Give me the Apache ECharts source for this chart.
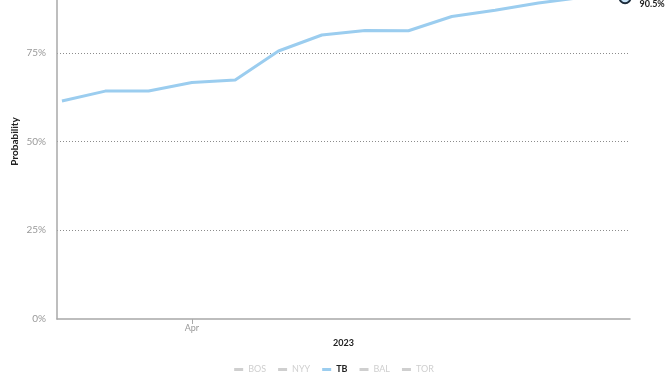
<!DOCTYPE html>
<html>
<head>
<meta charset="utf-8">
<title>Probability</title>
<script src="https://cdn.jsdelivr.net/npm/echarts@6/dist/echarts.min.js"></script>
<style>
  html, body { margin: 0; padding: 0; background: #fff; }
  #chart { width: 668px; height: 376px; }
</style>
</head>
<body>
<div id="chart"></div>
<script>
// weekly snapshots (2023)
var dates = ["2023-03-11", "2023-03-18", "2023-03-25", "2023-04-01", "2023-04-08", "2023-04-15", "2023-04-22",
  "2023-04-29", "2023-05-06", "2023-05-13", "2023-05-20", "2023-05-27", "2023-06-03", "2023-06-10"];
var tbValues = [61.4, 64.2, 64.2, 66.6, 67.3, 75.5, 80.0, 81.3, 81.2, 85.2, 87.0, 89.0, 90.6, 90.5];
var teams = ["BOS", "NYY", "TB", "BAL", "TOR"];
var yTicks = [0, 25, 50, 75, 100];
var monthTicks = ["2023-04-01"];
var monthNames = ["Jan", "Feb", "Mar", "Apr", "May", "Jun", "Jul", "Aug", "Sep", "Oct", "Nov", "Dec"];

var day = 24 * 3600 * 1000;
function toTime(d) { return new Date(d + "T00:00:00Z").getTime(); }
var t = dates.map(toTime);
var monthTickTimes = monthTicks.map(toTime);

var chart = echarts.init(document.getElementById("chart"));

var teamColors = { BOS: "#bd3039", NYY: "#0c2340", TB: "#9bcdef", BAL: "#df4601", TOR: "#134a8e" };

var series = teams.map(function (name) {
  var s = {
    name: name,
    type: "line",
    color: teamColors[name],
    showSymbol: false,
    symbol: "circle",
    lineStyle: { width: 3 },
    clip: false,
    data: []
  };
  if (name === "TB") {
    s.data = t.map(function (x, i) {
      var item = { value: [x, tbValues[i]] };
      if (i === t.length - 1) {
        item.symbol = "circle";
        item.symbolSize = 11;
        item.itemStyle = { color: "#c6e2f6", borderColor: "#1c2b3a", borderWidth: 2 };
        item.label = {
          show: true,
          position: "right",
          offset: [3, 6],
          formatter: tbValues[i].toFixed(1) + "%",
          color: "#222",
          fontWeight: "bold",
          fontSize: 9,
          fontFamily: "Lato"
        };
      }
      return item;
    });
    s.showAllSymbol = true;
    s.showSymbol = true;
    s.symbolSize = 0;
  }
  return s;
});

var selected = {};
teams.forEach(function (n) { selected[n] = n === "TB"; });

var option = {
  animation: false,
  textStyle: { fontFamily: "Lato" },
  grid: { left: 57, right: 38, top: -36, bottom: 57, containLabel: false, outerBoundsMode: "none" },
  legend: {
    bottom: 2,
    left: "center",
    padding: 0,
    itemWidth: 9,
    itemHeight: 3,
    itemGap: 12,
    icon: "rect",
    selected: selected,
    inactiveColor: "#cfcfcf",
    data: teams.map(function (n) {
      return {
        name: n,
        textStyle: n === "TB"
          ? { color: "#222", fontWeight: "bold", fontSize: 9 }
          : { fontWeight: "normal", fontSize: 9 }
      };
    }),
    textStyle: { fontSize: 9, fontFamily: "Lato" }
  },
  xAxis: {
    type: "value",
    min: t[0] - 0.8 * day,
    max: t[t.length - 1] + 0.8 * day,
    name: "2023",
    nameLocation: "middle",
    nameGap: 20,
    nameMoveOverlap: false,
    nameTextStyle: { color: "#222", fontWeight: "bold", fontSize: 9 },
    axisLine: { lineStyle: { color: "#a8a8a8", width: 1.5 } },
    axisTick: {
      show: true,
      length: 5,
      lineStyle: { color: "#a8a8a8" },
      customValues: monthTickTimes
    },
    axisLabel: {
      color: "#999",
      fontSize: 9,
      margin: 5,
      customValues: monthTickTimes,
      formatter: function (v) { return monthNames[new Date(v).getUTCMonth()]; }
    },
    splitLine: { show: false }
  },
  yAxis: {
    type: "value",
    min: yTicks[0],
    max: yTicks[yTicks.length - 1],
    interval: 25,
    name: "Probability",
    nameLocation: "middle",
    nameGap: 37,
    nameMoveOverlap: false,
    nameTextStyle: { color: "#222", fontWeight: "bold", fontSize: 10 },
    axisLine: { show: true, lineStyle: { color: "#a8a8a8", width: 1.5 } },
    axisTick: { show: false },
    axisLabel: {
      color: "#999",
      fontSize: 10,
      margin: 11,
      formatter: function (v) { return v + "%"; }
    },
    splitLine: {
      show: true,
      showMinLine: false,
      lineStyle: { color: "#8c8c8c", type: [1, 2], width: 1 }
    }
  },
  series: series
};

chart.setOption(option);
</script>
</body>
</html>
